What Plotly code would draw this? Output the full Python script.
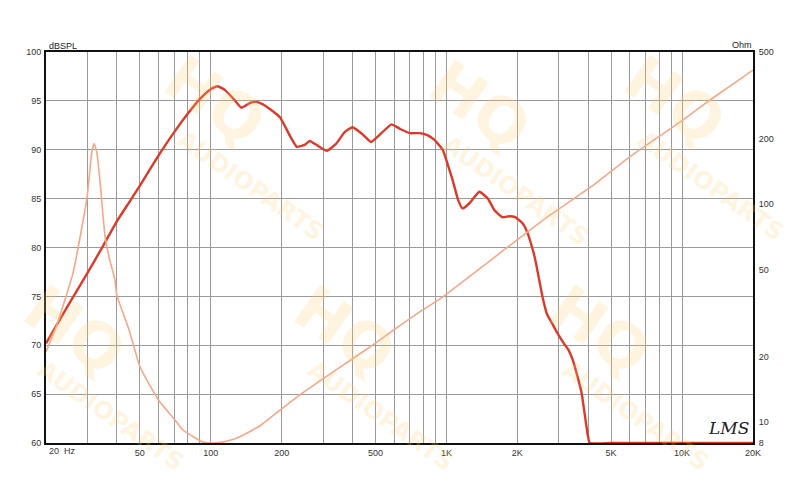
import plotly.graph_objects as go

# ---------------- data ----------------
spl_freq = [20, 25, 30, 35, 40, 45, 50, 60, 70, 80, 90, 100, 107, 115, 125, 135, 147, 155, 165,
            180, 197, 216, 232, 250, 263, 285, 311, 340, 370, 400, 440, 479, 530, 585, 640,
            700, 770, 830, 890, 965, 1010, 1063, 1120, 1170, 1250, 1380, 1500, 1600, 1730,
            1850, 1960, 2100, 2200, 2330, 2400, 2560, 2670, 2800, 2950, 3150, 3300, 3460,
            3600, 3750, 3940, 4060, 5000, 10000, 20000]
spl_db = [70.2, 74.2, 77.4, 80.2, 82.7, 84.6, 86.3, 89.4, 91.8, 93.7, 95.2, 96.2, 96.5, 96.1,
          95.2, 94.3, 94.8, 94.9, 94.7, 94.1, 93.3, 91.5, 90.3, 90.5, 90.9, 90.4, 89.9, 90.6,
          91.8, 92.3, 91.6, 90.8, 91.7, 92.6, 92.1, 91.7, 91.7, 91.5, 91.0, 90.0, 88.6, 86.9,
          84.9, 84.0, 84.5, 85.7, 85.0, 83.8, 83.1, 83.2, 83.1, 82.5, 81.6, 79.7, 78.4, 74.9,
          73.2, 72.3, 71.3, 70.2, 69.5, 68.3, 66.8, 65.1, 61.5, 60.0, 60.0, 60.0, 60.0]

imp_freq = [20, 22, 24, 26, 28, 29.9, 31.2, 32.0, 32.9, 34.2, 35.6, 37.2, 39.2, 40, 45, 50,
            55, 61, 70, 76, 85, 92, 100, 110, 124, 140, 162, 190, 232, 300, 400, 500, 600,
            770, 960, 1300, 1700, 2190, 2750, 4100, 6000, 10100, 13130, 20000]
imp_ohm = [21, 27, 36, 48, 72, 108, 170, 190, 172, 115, 71, 56, 45, 38, 26.5, 18, 14.8,
           12.3, 10.3, 9.2, 8.5, 8.1, 8.0, 8.05, 8.3, 8.8, 9.6, 11.0, 13.0, 15.8, 19.5, 23,
           26.5, 32, 37.3, 48, 60, 74, 89, 120, 165, 244, 301, 413]

x_grid = [20, 30, 40, 50, 60, 70, 80, 90, 100, 200, 300, 400, 500, 600, 700, 800, 900,
          1000, 2000, 3000, 4000, 5000, 6000, 7000, 8000, 9000, 10000, 20000]
x_labels = {50: "50", 100: "100", 200: "200", 500: "500", 1000: "1K", 2000: "2K",
            5000: "5K", 10000: "10K", 20000: "20K"}
y_left_ticks = [60, 65, 70, 75, 80, 85, 90, 95, 100]
y_right_ticks = [8, 10, 20, 50, 100, 200, 500]

# ---------------- figure ----------------
OFF = 8                      # page body margin
W, H = 800 - OFF, 484 - OFF
# plot area in screen pixels: x 46..753, y 52..443
L, R, T, B = 46 - OFF, 800 - 753, 52 - OFF, 484 - 443
pw, ph = W - L - R, H - T - B

def px(xs):
    return (xs - OFF - L) / pw

def py(ys):
    return (H - B - (ys - OFF)) / ph

fig = go.Figure()

fig.add_trace(go.Scatter(x=imp_freq, y=imp_ohm, yaxis="y2", mode="lines",
                         line=dict(color="#f4a889", width=1.6, shape="spline", smoothing=0.4),
                         hoverinfo="skip", showlegend=False))
fig.add_trace(go.Scatter(x=spl_freq, y=spl_db, mode="lines",
                         line=dict(color="#db3a2a", width=2.4, shape="spline", smoothing=0.4),
                         hoverinfo="skip", showlegend=False))

tickfont = dict(family="Liberation Sans, Arial, sans-serif", size=9, color="#333333")

fig.update_layout(
    width=W, height=H,
    margin=dict(l=L, r=R, t=T, b=B, pad=0, autoexpand=False),
    paper_bgcolor="white", plot_bgcolor="white",
    xaxis=dict(type="log", range=[1.30103, 4.30103], tickmode="array",
               tickvals=x_grid, ticktext=[x_labels.get(v, "") for v in x_grid],
               showgrid=True, gridcolor="#9a9a9a", gridwidth=1, automargin=False,
               showline=True, linecolor="#111111", linewidth=2, mirror=True,
               ticks="", tickfont=tickfont, zeroline=False),
    yaxis=dict(range=[60, 100], tickmode="array", tickvals=y_left_ticks,
               ticktext=[str(v) for v in y_left_ticks], automargin=False,
               showgrid=True, gridcolor="#9a9a9a", gridwidth=1,
               showline=True, linecolor="#111111", linewidth=2, mirror=True,
               ticks="", tickfont=tickfont, zeroline=False, ticklabelstandoff=1),
    yaxis2=dict(type="log", range=[0.90309, 2.69897], overlaying="y", side="right",
                tickmode="array", tickvals=y_right_ticks, automargin=False,
                ticktext=[str(v) for v in y_right_ticks],
                showgrid=False, showline=True, linecolor="#111111", linewidth=2,
                ticks="", tickfont=tickfont, zeroline=False, ticklabelstandoff=2),
)

ann = []
ann.append(dict(text="dBSPL", x=px(47), y=py(46), xref="paper", yref="paper",
                xanchor="left", yanchor="middle", showarrow=False,
                font=dict(family="Liberation Sans, Arial", size=9, color="#222")))
ann.append(dict(text="Ohm", x=px(754), y=py(45), xref="paper", yref="paper",
                xanchor="right", yanchor="middle", showarrow=False,
                font=dict(family="Liberation Sans, Arial", size=9, color="#222")))
ann.append(dict(text="20  Hz", x=px(47), y=py(451), xref="paper", yref="paper",
                xanchor="left", yanchor="middle", showarrow=False,
                font=tickfont))
ann.append(dict(text="<i>LMS</i>", x=px(728), y=py(428), xref="paper", yref="paper",
                xanchor="center", yanchor="middle", showarrow=False,
                font=dict(family="DejaVu Serif", size=17, color="#222")))

# watermark
wm_col = "rgba(252,205,110,0.22)"
for (cx, cy) in [(215, 100), (480, 105), (675, 100), (345, 330), (600, 330), (75, 330)]:
    ann.append(dict(text="<b>HQ</b>", x=px(cx), y=py(cy), xref="paper", yref="paper",
                    xanchor="center", yanchor="middle",
                    showarrow=False, textangle=35,
                    font=dict(family="DejaVu Sans", size=62, color=wm_col)))
    ann.append(dict(text="<b>AUDIOPARTS</b>", x=px(cx + 36), y=py(cy + 86), xref="paper",
                    yref="paper", xanchor="center", yanchor="middle",
                    showarrow=False, textangle=35,
                    font=dict(family="DejaVu Sans", size=24, color=wm_col)))
fig.update_layout(annotations=ann)

fig.write_html("out.html")
